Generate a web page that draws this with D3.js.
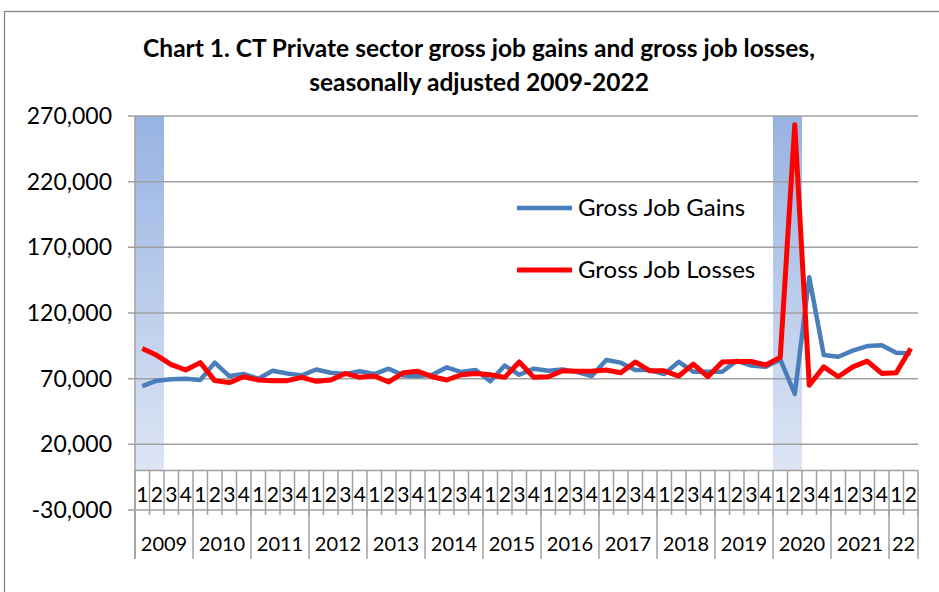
<!DOCTYPE html>
<meta charset="utf-8">
<style>
body { margin: 0; background: #fff; }
svg { font-family: Lato, 'Open Sans', sans-serif; }
.grid line { stroke: #a0a0a0; stroke-width: 1.5; }
.sep { stroke: #a0a0a0; stroke-width: 1.5; }
</style>
<body>
<script src="https://cdn.jsdelivr.net/npm/d3@7"></script>
<script>
// quarters 2009Q1 .. 2022Q2
var years = ['2009','2010','2011','2012','2013','2014','2015','2016','2017','2018','2019','2020','2021','22']
var yearQuarters = [4,4,4,4,4,4,4,4,4,4,4,4,4,2]
var quarters = []
years.forEach(function (y, yi) {
    for (var q = 1; q <= yearQuarters[yi]; q++) quarters.push(y + 'Q' + q)
})

var gains = [64400, 68500, 69500, 70000, 69000, 82200, 72000, 73500, 70000, 76000,
    74000, 72500, 77000, 74500, 73500, 75600, 73500, 77600, 72500, 72000,
    73000, 78600, 75000, 76600, 68000, 80000, 73000, 77600, 76000, 77000,
    75000, 72000, 84200, 82200, 76600, 76600, 73500, 82800, 75300, 75300,
    75300, 83600, 80000, 79000, 84600, 58400, 147300, 88000, 86700, 91300,
    94800, 95500, 89700, 89200]

var losses = [92900, 87800, 80700, 76600, 82200, 68500, 67000, 71500, 69000, 68500,
    68500, 71000, 68000, 69000, 74000, 71000, 72000, 67500, 74500, 75600,
    71500, 69000, 73000, 74000, 73000, 71000, 82700, 71000, 71500, 76000,
    75600, 75600, 76600, 74500, 82700, 76000, 76000, 72000, 81100, 71500,
    82600, 83100, 83100, 80400, 86200, 263400, 65000, 79000, 71500, 79000,
    83300, 74000, 74500, 93000]

// recession shading
var recessions = [['2009Q1', '2009Q2'], ['2020Q1', '2020Q2']]
var yTicks = [-30000, 20000, 70000, 120000, 170000, 220000, 270000]

var width = 939, height = 592
var plotLeft = 135, plotRight = 918, plotTop = 116, plotBottom = 510

var svg = d3.select('body').append('svg')
    .attr('width', width)
    .attr('height', height)

var defs = svg.append('defs')
var grad = defs.append('linearGradient')
    .attr('id', 'band')
    .attr('x1', 0).attr('y1', 0).attr('x2', 0).attr('y2', 1)
grad.append('stop').attr('offset', '0%').attr('stop-color', '#97b3e2')
grad.append('stop').attr('offset', '100%').attr('stop-color', '#dde5f4')

// chart frame
svg.append('rect')
    .attr('x', 4.5).attr('y', 11.5)
    .attr('width', 1000).attr('height', 1000)
    .attr('fill', 'none')
    .attr('stroke', '#878787')
    .attr('stroke-width', 1.3)

var x = d3.scaleBand().domain(quarters).range([plotLeft, plotRight])
var y = d3.scaleLinear().domain([-30000, 270000]).range([plotBottom, plotTop])

// title
svg.append('text')
    .attr('x', 479).attr('y', 57)
    .attr('text-anchor', 'middle')
    .attr('font-weight', 'bold')
    .attr('font-size', 24.5)
    .text('Chart 1. CT Private sector gross job gains and gross job losses,')
svg.append('text')
    .attr('x', 479).attr('y', 91)
    .attr('text-anchor', 'middle')
    .attr('font-weight', 'bold')
    .attr('font-size', 24.5)
    .text('seasonally adjusted 2009-2022')

// shaded bands
svg.selectAll('.rec')
    .data(recessions)
    .enter().append('rect')
    .attr('class', 'rec')
    .attr('x', d => x(d[0]))
    .attr('width', d => x(d[1]) + x.bandwidth() - x(d[0]))
    .attr('y', y(270000))
    .attr('height', y(0) - y(270000))
    .attr('fill', 'url(#band)')

// gridlines
svg.append('g').attr('class', 'grid')
    .selectAll('line')
    .data(yTicks)
    .enter().append('line')
    .attr('x1', plotLeft - 7).attr('x2', plotRight)
    .attr('y1', d => y(d)).attr('y2', d => y(d))

svg.selectAll('.ylab')
    .data(yTicks)
    .enter().append('text')
    .attr('class', 'ylab')
    .attr('x', 112)
    .attr('y', d => y(d) + 8)
    .attr('text-anchor', 'end')
    .attr('font-size', 23)
    .text(d => d3.format(',')(d).replace('\u2212', '-'))

// value axis
svg.append('line').attr('class', 'sep')
    .attr('x1', plotLeft).attr('x2', plotLeft)
    .attr('y1', plotTop).attr('y2', 559)

// category axis at zero
svg.append('line').attr('class', 'sep')
    .attr('x1', plotLeft).attr('x2', plotRight)
    .attr('y1', y(0)).attr('y2', y(0))

var bounds = quarters.map(q => x(q)).concat([plotRight])
svg.selectAll('.qsep')
    .data(bounds)
    .enter().append('line')
    .attr('class', 'sep')
    .attr('x1', d => d).attr('x2', d => d)
    .attr('y1', y(0)).attr('y2', plotBottom + 5)

svg.selectAll('.qlab')
    .data(quarters)
    .enter().append('text')
    .attr('x', d => x(d) + x.bandwidth() / 2)
    .attr('y', 502)
    .attr('text-anchor', 'middle')
    .attr('font-size', 21)
    .text(d => d.slice(-1))

var yearStart = years.map(yr => x(quarters.find(q => q.indexOf(yr + 'Q') === 0)))
svg.selectAll('.ysep')
    .data(yearStart.concat([plotRight]))
    .enter().append('line')
    .attr('class', 'sep')
    .attr('x1', d => d).attr('x2', d => d)
    .attr('y1', plotBottom).attr('y2', 559)

svg.selectAll('.yrlab')
    .data(years)
    .enter().append('text')
    .attr('x', (d, i) => yearStart[i] + yearQuarters[i] * x.bandwidth() / 2)
    .attr('y', 551)
    .attr('text-anchor', 'middle')
    .attr('font-size', 20)
    .text(d => d)

// lines
var line = d3.line()
    .x((d, i) => x(quarters[i]) + x.bandwidth() / 2)
    .y(d => y(d))

svg.append('path')
    .datum(gains)
    .attr('d', line)
    .attr('fill', 'none')
    .attr('stroke', '#4a7ebb')
    .attr('stroke-width', 4.5)
    .attr('stroke-linejoin', 'round')

svg.append('path')
    .datum(losses)
    .attr('d', line)
    .attr('fill', 'none')
    .attr('stroke', '#ff0000')
    .attr('stroke-width', 5)
    .attr('stroke-linejoin', 'round')

// legend
var legend = [['Gross Job Gains', '#4a7ebb', 208], ['Gross Job Losses', '#ff0000', 270]]
var lg = svg.selectAll('.lg').data(legend).enter().append('g')
lg.append('line')
    .attr('x1', 517).attr('x2', 572)
    .attr('y1', d => d[2]).attr('y2', d => d[2])
    .attr('stroke', d => d[1])
    .attr('stroke-width', d => d[1] === '#ff0000' ? 5 : 4.5)
lg.append('text')
    .attr('x', 578)
    .attr('y', d => d[2] + 8)
    .attr('font-size', 24)
    .text(d => d[0])
</script>
</body>
